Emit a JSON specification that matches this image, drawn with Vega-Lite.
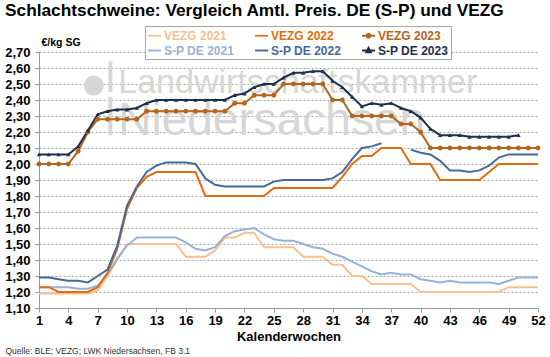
{
  "$schema": "https://vega.github.io/schema/vega-lite/v6.json",
  "autosize": {"type": "none"},
  "width": 499,
  "height": 256,
  "padding": {"left": 39, "top": 52, "right": 12, "bottom": 49},
  "background": "white",
  "title": {"text": "Schlachtschweine: Vergleich Amtl. Preis. DE (S-P) und VEZG", "anchor": "start", "frame": "group", "dx": -34, "offset": 6, "fontSize": 17.3, "fontWeight": "bold", "font": "Liberation Sans", "color": "#000000"},
  "config": {"view": {"stroke": null}, "font": "Liberation Sans"},
  "datasets": {
    "preise": [
      {"s":"VEZG 2021","w":1,"p":1.19},{"s":"VEZG 2021","w":2,"p":1.19},{"s":"VEZG 2021","w":3,"p":1.19},{"s":"VEZG 2021","w":4,"p":1.19},{"s":"VEZG 2021","w":5,"p":1.19},{"s":"VEZG 2021","w":6,"p":1.19},{"s":"VEZG 2021","w":7,"p":1.21},{"s":"VEZG 2021","w":8,"p":1.30},{"s":"VEZG 2021","w":9,"p":1.40},{"s":"VEZG 2021","w":10,"p":1.50},{"s":"VEZG 2021","w":11,"p":1.50},{"s":"VEZG 2021","w":12,"p":1.50},{"s":"VEZG 2021","w":13,"p":1.50},{"s":"VEZG 2021","w":14,"p":1.50},{"s":"VEZG 2021","w":15,"p":1.50},{"s":"VEZG 2021","w":16,"p":1.42},{"s":"VEZG 2021","w":17,"p":1.42},{"s":"VEZG 2021","w":18,"p":1.42},{"s":"VEZG 2021","w":19,"p":1.46},{"s":"VEZG 2021","w":20,"p":1.54},{"s":"VEZG 2021","w":21,"p":1.54},{"s":"VEZG 2021","w":22,"p":1.57},{"s":"VEZG 2021","w":23,"p":1.57},{"s":"VEZG 2021","w":24,"p":1.48},{"s":"VEZG 2021","w":25,"p":1.48},{"s":"VEZG 2021","w":26,"p":1.48},{"s":"VEZG 2021","w":27,"p":1.48},{"s":"VEZG 2021","w":28,"p":1.42},{"s":"VEZG 2021","w":29,"p":1.42},{"s":"VEZG 2021","w":30,"p":1.42},{"s":"VEZG 2021","w":31,"p":1.37},{"s":"VEZG 2021","w":32,"p":1.37},{"s":"VEZG 2021","w":33,"p":1.30},{"s":"VEZG 2021","w":34,"p":1.30},{"s":"VEZG 2021","w":35,"p":1.25},{"s":"VEZG 2021","w":36,"p":1.25},{"s":"VEZG 2021","w":37,"p":1.25},{"s":"VEZG 2021","w":38,"p":1.25},{"s":"VEZG 2021","w":39,"p":1.25},{"s":"VEZG 2021","w":40,"p":1.20},{"s":"VEZG 2021","w":41,"p":1.20},{"s":"VEZG 2021","w":42,"p":1.20},{"s":"VEZG 2021","w":43,"p":1.20},{"s":"VEZG 2021","w":44,"p":1.20},{"s":"VEZG 2021","w":45,"p":1.20},{"s":"VEZG 2021","w":46,"p":1.20},{"s":"VEZG 2021","w":47,"p":1.20},{"s":"VEZG 2021","w":48,"p":1.20},{"s":"VEZG 2021","w":49,"p":1.23},{"s":"VEZG 2021","w":50,"p":1.23},{"s":"VEZG 2021","w":51,"p":1.23},{"s":"VEZG 2021","w":52,"p":1.23},
      {"s":"S-P DE 2021","w":1,"p":1.23},{"s":"S-P DE 2021","w":2,"p":1.23},{"s":"S-P DE 2021","w":3,"p":1.23},{"s":"S-P DE 2021","w":4,"p":1.23},{"s":"S-P DE 2021","w":5,"p":1.22},{"s":"S-P DE 2021","w":6,"p":1.22},{"s":"S-P DE 2021","w":7,"p":1.24},{"s":"S-P DE 2021","w":8,"p":1.31},{"s":"S-P DE 2021","w":9,"p":1.41},{"s":"S-P DE 2021","w":10,"p":1.49},{"s":"S-P DE 2021","w":11,"p":1.54},{"s":"S-P DE 2021","w":12,"p":1.54},{"s":"S-P DE 2021","w":13,"p":1.54},{"s":"S-P DE 2021","w":14,"p":1.54},{"s":"S-P DE 2021","w":15,"p":1.54},{"s":"S-P DE 2021","w":16,"p":1.51},{"s":"S-P DE 2021","w":17,"p":1.47},{"s":"S-P DE 2021","w":18,"p":1.46},{"s":"S-P DE 2021","w":19,"p":1.48},{"s":"S-P DE 2021","w":20,"p":1.55},{"s":"S-P DE 2021","w":21,"p":1.58},{"s":"S-P DE 2021","w":22,"p":1.59},{"s":"S-P DE 2021","w":23,"p":1.60},{"s":"S-P DE 2021","w":24,"p":1.56},{"s":"S-P DE 2021","w":25,"p":1.53},{"s":"S-P DE 2021","w":26,"p":1.52},{"s":"S-P DE 2021","w":27,"p":1.52},{"s":"S-P DE 2021","w":28,"p":1.50},{"s":"S-P DE 2021","w":29,"p":1.48},{"s":"S-P DE 2021","w":30,"p":1.47},{"s":"S-P DE 2021","w":31,"p":1.44},{"s":"S-P DE 2021","w":32,"p":1.42},{"s":"S-P DE 2021","w":33,"p":1.39},{"s":"S-P DE 2021","w":34,"p":1.36},{"s":"S-P DE 2021","w":35,"p":1.33},{"s":"S-P DE 2021","w":36,"p":1.31},{"s":"S-P DE 2021","w":37,"p":1.32},{"s":"S-P DE 2021","w":38,"p":1.31},{"s":"S-P DE 2021","w":39,"p":1.31},{"s":"S-P DE 2021","w":40,"p":1.28},{"s":"S-P DE 2021","w":41,"p":1.27},{"s":"S-P DE 2021","w":42,"p":1.26},{"s":"S-P DE 2021","w":43,"p":1.27},{"s":"S-P DE 2021","w":44,"p":1.26},{"s":"S-P DE 2021","w":45,"p":1.26},{"s":"S-P DE 2021","w":46,"p":1.26},{"s":"S-P DE 2021","w":47,"p":1.26},{"s":"S-P DE 2021","w":48,"p":1.25},{"s":"S-P DE 2021","w":49,"p":1.27},{"s":"S-P DE 2021","w":50,"p":1.29},{"s":"S-P DE 2021","w":51,"p":1.29},{"s":"S-P DE 2021","w":52,"p":1.29},
      {"s":"VEZG 2022","w":1,"p":1.23},{"s":"VEZG 2022","w":2,"p":1.23},{"s":"VEZG 2022","w":3,"p":1.20},{"s":"VEZG 2022","w":4,"p":1.20},{"s":"VEZG 2022","w":5,"p":1.20},{"s":"VEZG 2022","w":6,"p":1.20},{"s":"VEZG 2022","w":7,"p":1.23},{"s":"VEZG 2022","w":8,"p":1.32},{"s":"VEZG 2022","w":9,"p":1.47},{"s":"VEZG 2022","w":10,"p":1.72},{"s":"VEZG 2022","w":11,"p":1.85},{"s":"VEZG 2022","w":12,"p":1.92},{"s":"VEZG 2022","w":13,"p":1.95},{"s":"VEZG 2022","w":14,"p":1.95},{"s":"VEZG 2022","w":15,"p":1.95},{"s":"VEZG 2022","w":16,"p":1.95},{"s":"VEZG 2022","w":17,"p":1.95},{"s":"VEZG 2022","w":18,"p":1.80},{"s":"VEZG 2022","w":19,"p":1.80},{"s":"VEZG 2022","w":20,"p":1.80},{"s":"VEZG 2022","w":21,"p":1.80},{"s":"VEZG 2022","w":22,"p":1.80},{"s":"VEZG 2022","w":23,"p":1.80},{"s":"VEZG 2022","w":24,"p":1.80},{"s":"VEZG 2022","w":25,"p":1.85},{"s":"VEZG 2022","w":26,"p":1.85},{"s":"VEZG 2022","w":27,"p":1.85},{"s":"VEZG 2022","w":28,"p":1.85},{"s":"VEZG 2022","w":29,"p":1.85},{"s":"VEZG 2022","w":30,"p":1.85},{"s":"VEZG 2022","w":31,"p":1.85},{"s":"VEZG 2022","w":32,"p":1.92},{"s":"VEZG 2022","w":33,"p":2.00},{"s":"VEZG 2022","w":34,"p":2.05},{"s":"VEZG 2022","w":35,"p":2.05},{"s":"VEZG 2022","w":36,"p":2.10},{"s":"VEZG 2022","w":37,"p":2.10},{"s":"VEZG 2022","w":38,"p":2.10},{"s":"VEZG 2022","w":39,"p":2.00},{"s":"VEZG 2022","w":40,"p":2.00},{"s":"VEZG 2022","w":41,"p":2.00},{"s":"VEZG 2022","w":42,"p":1.90},{"s":"VEZG 2022","w":43,"p":1.90},{"s":"VEZG 2022","w":44,"p":1.90},{"s":"VEZG 2022","w":45,"p":1.90},{"s":"VEZG 2022","w":46,"p":1.90},{"s":"VEZG 2022","w":47,"p":1.95},{"s":"VEZG 2022","w":48,"p":2.00},{"s":"VEZG 2022","w":49,"p":2.00},{"s":"VEZG 2022","w":50,"p":2.00},{"s":"VEZG 2022","w":51,"p":2.00},{"s":"VEZG 2022","w":52,"p":2.00},
      {"s":"S-P DE 2022","w":1,"p":1.29},{"s":"S-P DE 2022","w":2,"p":1.29},{"s":"S-P DE 2022","w":3,"p":1.28},{"s":"S-P DE 2022","w":4,"p":1.27},{"s":"S-P DE 2022","w":5,"p":1.27},{"s":"S-P DE 2022","w":6,"p":1.26},{"s":"S-P DE 2022","w":7,"p":1.30},{"s":"S-P DE 2022","w":8,"p":1.34},{"s":"S-P DE 2022","w":9,"p":1.49},{"s":"S-P DE 2022","w":10,"p":1.74},{"s":"S-P DE 2022","w":11,"p":1.86},{"s":"S-P DE 2022","w":12,"p":1.95},{"s":"S-P DE 2022","w":13,"p":1.99},{"s":"S-P DE 2022","w":14,"p":2.01},{"s":"S-P DE 2022","w":15,"p":2.01},{"s":"S-P DE 2022","w":16,"p":2.01},{"s":"S-P DE 2022","w":17,"p":2.00},{"s":"S-P DE 2022","w":18,"p":1.91},{"s":"S-P DE 2022","w":19,"p":1.87},{"s":"S-P DE 2022","w":20,"p":1.86},{"s":"S-P DE 2022","w":21,"p":1.86},{"s":"S-P DE 2022","w":22,"p":1.86},{"s":"S-P DE 2022","w":23,"p":1.86},{"s":"S-P DE 2022","w":24,"p":1.86},{"s":"S-P DE 2022","w":25,"p":1.89},{"s":"S-P DE 2022","w":26,"p":1.90},{"s":"S-P DE 2022","w":27,"p":1.90},{"s":"S-P DE 2022","w":28,"p":1.90},{"s":"S-P DE 2022","w":29,"p":1.90},{"s":"S-P DE 2022","w":30,"p":1.90},{"s":"S-P DE 2022","w":31,"p":1.91},{"s":"S-P DE 2022","w":32,"p":1.95},{"s":"S-P DE 2022","w":33,"p":2.03},{"s":"S-P DE 2022","w":34,"p":2.10},{"s":"S-P DE 2022","w":35,"p":2.11},{"s":"S-P DE 2022","w":36,"p":2.13},{"s":"S-P DE 2022","w":37,"p":null},{"s":"S-P DE 2022","w":38,"p":null},{"s":"S-P DE 2022","w":39,"p":2.09},{"s":"S-P DE 2022","w":40,"p":2.07},{"s":"S-P DE 2022","w":41,"p":2.06},{"s":"S-P DE 2022","w":42,"p":2.02},{"s":"S-P DE 2022","w":43,"p":1.96},{"s":"S-P DE 2022","w":44,"p":1.96},{"s":"S-P DE 2022","w":45,"p":1.95},{"s":"S-P DE 2022","w":46,"p":1.96},{"s":"S-P DE 2022","w":47,"p":1.99},{"s":"S-P DE 2022","w":48,"p":2.04},{"s":"S-P DE 2022","w":49,"p":2.06},{"s":"S-P DE 2022","w":50,"p":2.06},{"s":"S-P DE 2022","w":51,"p":2.06},{"s":"S-P DE 2022","w":52,"p":2.06},
      {"s":"VEZG 2023","w":1,"p":2.00},{"s":"VEZG 2023","w":2,"p":2.00},{"s":"VEZG 2023","w":3,"p":2.00},{"s":"VEZG 2023","w":4,"p":2.00},{"s":"VEZG 2023","w":5,"p":2.08},{"s":"VEZG 2023","w":6,"p":2.20},{"s":"VEZG 2023","w":7,"p":2.28},{"s":"VEZG 2023","w":8,"p":2.28},{"s":"VEZG 2023","w":9,"p":2.28},{"s":"VEZG 2023","w":10,"p":2.28},{"s":"VEZG 2023","w":11,"p":2.28},{"s":"VEZG 2023","w":12,"p":2.33},{"s":"VEZG 2023","w":13,"p":2.33},{"s":"VEZG 2023","w":14,"p":2.33},{"s":"VEZG 2023","w":15,"p":2.33},{"s":"VEZG 2023","w":16,"p":2.33},{"s":"VEZG 2023","w":17,"p":2.33},{"s":"VEZG 2023","w":18,"p":2.33},{"s":"VEZG 2023","w":19,"p":2.33},{"s":"VEZG 2023","w":20,"p":2.33},{"s":"VEZG 2023","w":21,"p":2.38},{"s":"VEZG 2023","w":22,"p":2.38},{"s":"VEZG 2023","w":23,"p":2.43},{"s":"VEZG 2023","w":24,"p":2.43},{"s":"VEZG 2023","w":25,"p":2.43},{"s":"VEZG 2023","w":26,"p":2.50},{"s":"VEZG 2023","w":27,"p":2.50},{"s":"VEZG 2023","w":28,"p":2.50},{"s":"VEZG 2023","w":29,"p":2.50},{"s":"VEZG 2023","w":30,"p":2.50},{"s":"VEZG 2023","w":31,"p":2.40},{"s":"VEZG 2023","w":32,"p":2.40},{"s":"VEZG 2023","w":33,"p":2.30},{"s":"VEZG 2023","w":34,"p":2.30},{"s":"VEZG 2023","w":35,"p":2.30},{"s":"VEZG 2023","w":36,"p":2.30},{"s":"VEZG 2023","w":37,"p":2.30},{"s":"VEZG 2023","w":38,"p":2.25},{"s":"VEZG 2023","w":39,"p":2.25},{"s":"VEZG 2023","w":40,"p":2.20},{"s":"VEZG 2023","w":41,"p":2.10},{"s":"VEZG 2023","w":42,"p":2.10},{"s":"VEZG 2023","w":43,"p":2.10},{"s":"VEZG 2023","w":44,"p":2.10},{"s":"VEZG 2023","w":45,"p":2.10},{"s":"VEZG 2023","w":46,"p":2.10},{"s":"VEZG 2023","w":47,"p":2.10},{"s":"VEZG 2023","w":48,"p":2.10},{"s":"VEZG 2023","w":49,"p":2.10},{"s":"VEZG 2023","w":50,"p":2.10},{"s":"VEZG 2023","w":51,"p":2.10},{"s":"VEZG 2023","w":52,"p":2.10},
      {"s":"S-P DE 2023","w":1,"p":2.06},{"s":"S-P DE 2023","w":2,"p":2.06},{"s":"S-P DE 2023","w":3,"p":2.06},{"s":"S-P DE 2023","w":4,"p":2.06},{"s":"S-P DE 2023","w":5,"p":2.11},{"s":"S-P DE 2023","w":6,"p":2.21},{"s":"S-P DE 2023","w":7,"p":2.31},{"s":"S-P DE 2023","w":8,"p":2.33},{"s":"S-P DE 2023","w":9,"p":2.34},{"s":"S-P DE 2023","w":10,"p":2.34},{"s":"S-P DE 2023","w":11,"p":2.35},{"s":"S-P DE 2023","w":12,"p":2.38},{"s":"S-P DE 2023","w":13,"p":2.40},{"s":"S-P DE 2023","w":14,"p":2.40},{"s":"S-P DE 2023","w":15,"p":2.40},{"s":"S-P DE 2023","w":16,"p":2.40},{"s":"S-P DE 2023","w":17,"p":2.40},{"s":"S-P DE 2023","w":18,"p":2.40},{"s":"S-P DE 2023","w":19,"p":2.40},{"s":"S-P DE 2023","w":20,"p":2.40},{"s":"S-P DE 2023","w":21,"p":2.43},{"s":"S-P DE 2023","w":22,"p":2.44},{"s":"S-P DE 2023","w":23,"p":2.48},{"s":"S-P DE 2023","w":24,"p":2.50},{"s":"S-P DE 2023","w":25,"p":2.50},{"s":"S-P DE 2023","w":26,"p":2.54},{"s":"S-P DE 2023","w":27,"p":2.57},{"s":"S-P DE 2023","w":28,"p":2.57},{"s":"S-P DE 2023","w":29,"p":2.58},{"s":"S-P DE 2023","w":30,"p":2.58},{"s":"S-P DE 2023","w":31,"p":2.52},{"s":"S-P DE 2023","w":32,"p":2.48},{"s":"S-P DE 2023","w":33,"p":2.42},{"s":"S-P DE 2023","w":34,"p":2.36},{"s":"S-P DE 2023","w":35,"p":2.38},{"s":"S-P DE 2023","w":36,"p":2.37},{"s":"S-P DE 2023","w":37,"p":2.38},{"s":"S-P DE 2023","w":38,"p":2.35},{"s":"S-P DE 2023","w":39,"p":2.33},{"s":"S-P DE 2023","w":40,"p":2.29},{"s":"S-P DE 2023","w":41,"p":2.22},{"s":"S-P DE 2023","w":42,"p":2.18},{"s":"S-P DE 2023","w":43,"p":2.18},{"s":"S-P DE 2023","w":44,"p":2.18},{"s":"S-P DE 2023","w":45,"p":2.17},{"s":"S-P DE 2023","w":46,"p":2.17},{"s":"S-P DE 2023","w":47,"p":2.17},{"s":"S-P DE 2023","w":48,"p":2.17},{"s":"S-P DE 2023","w":49,"p":2.17},{"s":"S-P DE 2023","w":50,"p":2.18}
    ]
  },
  "resolve": {"scale": {"x": "independent", "y": "independent"}, "axis": {"x": "independent", "y": "independent"}},
  "layer": [
    {
      "data": {"values": [{}]},
      "mark": {"type": "point", "filled": true, "color": "#d6d6d6", "opacity": 1, "size": 400},
      "encoding": {
        "x": {"datum": 6.6, "type": "quantitative", "scale": {"domain": [1, 52], "nice": false, "zero": false}, "axis": null},
        "y": {"datum": 2.49, "type": "quantitative", "scale": {"domain": [1.1, 2.7], "nice": false, "zero": false},
          "axis": {"orient": "right", "labels": false, "ticks": false, "domain": false, "grid": false,
            "title": "Quelle: BLE; VEZG; LWK Niedersachsen, FB 3.1", "titleAngle": 0, "titleX": -533, "titleY": 298,
            "titleAlign": "left", "titleBaseline": "middle", "titleFontSize": 8.5, "titleFontWeight": "normal", "titleColor": "#333333", "titleFont": "Liberation Sans"}}
      }
    },
    {
      "data": {"values": [{}]},
      "layer": [
        {
          "mark": {"type": "rule", "color": "#d6d6d6", "strokeWidth": 4},
          "encoding": {
            "x": {"datum": 8.3, "type": "quantitative", "scale": {"domain": [1, 52], "nice": false, "zero": false}, "axis": null},
            "y": {"datum": 2.64, "type": "quantitative", "scale": {"domain": [1.1, 2.7], "nice": false, "zero": false}, "axis": null},
            "y2": {"datum": 2.45}
          }
        },
        {
          "mark": {"type": "rule", "color": "#d6d6d6", "strokeWidth": 4},
          "encoding": {
            "x": {"datum": 8.3, "type": "quantitative", "scale": {"domain": [1, 52], "nice": false, "zero": false}, "axis": null},
            "y": {"datum": 2.42, "type": "quantitative", "scale": {"domain": [1.1, 2.7], "nice": false, "zero": false}, "axis": null},
            "y2": {"datum": 2.18}
          }
        },
        {
          "mark": {"type": "text", "text": "Landwirtschaftskammer", "align": "left", "baseline": "alphabetic", "font": "Liberation Sans", "fontSize": 34, "color": "#d6d6d6"},
          "encoding": {
            "x": {"datum": 9.1, "type": "quantitative", "scale": {"domain": [1, 52], "nice": false, "zero": false}, "axis": null},
            "y": {"datum": 2.445, "type": "quantitative", "scale": {"domain": [1.1, 2.7], "nice": false, "zero": false}, "axis": null}
          }
        },
        {
          "mark": {"type": "text", "text": "Niedersachsen", "align": "left", "baseline": "alphabetic", "font": "Liberation Sans", "fontSize": 46, "color": "#d6d6d6"},
          "encoding": {
            "x": {"datum": 9.1, "type": "quantitative", "scale": {"domain": [1, 52], "nice": false, "zero": false}, "axis": null},
            "y": {"datum": 2.18, "type": "quantitative", "scale": {"domain": [1.1, 2.7], "nice": false, "zero": false}, "axis": null}
          }
        }
      ]
    },
    {
      "data": {"name": "preise"},
      "encoding": {
        "x": {"field": "w", "type": "quantitative", "scale": {"domain": [1, 52], "nice": false, "zero": false},
          "axis": {"orient": "bottom", "values": [1,4,7,10,13,16,19,22,25,28,31,34,37,40,43,46,49,52], "grid": false, "title": "Kalenderwochen",
            "labelFontSize": 13, "labelFontWeight": "bold", "labelColor": "#000000", "labelPadding": 2, "labelFlush": false,
            "tickSize": 4, "tickColor": "#999999", "domainColor": "#999999",
            "titleFontSize": 13, "titleFontWeight": "bold", "titleColor": "#000000", "titlePadding": 3}},
        "y": {"field": "p", "type": "quantitative", "scale": {"domain": [1.1, 2.7], "nice": false, "zero": false},
          "axis": {"orient": "left", "values": [1.1,1.2,1.3,1.4,1.5,1.6,1.7,1.8,1.9,2.0,2.1,2.2,2.3,2.4,2.5,2.6,2.7],
            "labelExpr": "replace(format(datum.value, '.2f'), '.', ',')",
            "grid": true, "gridDash": [2, 2], "gridColor": "#a6a6a6", "gridWidth": 1,
            "labelFontSize": 13, "labelFontWeight": "bold", "labelColor": "#000000", "labelPadding": 5,
            "tickSize": 4, "tickColor": "#999999", "domainColor": "#999999",
            "title": "€/kg SG", "titleAngle": 0, "titleX": 2, "titleY": -10, "titleAlign": "left", "titleBaseline": "middle",
            "titleFontSize": 10.5, "titleFontWeight": "bold", "titleColor": "#000000"}},
        "color": {"field": "s", "type": "nominal",
          "scale": {"domain": ["VEZG 2021", "VEZG 2022", "VEZG 2023", "S-P DE 2021", "S-P DE 2022", "S-P DE 2023"],
            "range": ["#f9bf8f", "#e46c0a", "#b5651d", "#95b3d7", "#46689a", "#1f2d4a"]},
          "legend": {"orient": "none", "legendX": 106, "legendY": -26, "direction": "horizontal", "columns": 3, "title": null,
            "padding": 2, "rowPadding": 1, "columnPadding": 16, "strokeColor": "#a6a6a6", "fillColor": "#ffffff",
            "symbolType": "stroke", "symbolSize": 169, "symbolStrokeWidth": 2, "labelOffset": 2,
            "labelFontSize": 12, "labelFontWeight": "bold", "labelFont": "Liberation Sans",
            "encode": {
              "labels": {"update": {"fill": {"scale": "color", "field": "value"}}},
              "symbols": {"update": {
                "shape": {"signal": "datum.value == 'VEZG 2023' ? 'M-1,0H1M-0.3,0A0.3,0.3,0,1,1,0.3,0A0.3,0.3,0,1,1,-0.3,0Z' : datum.value == 'S-P DE 2023' ? 'M-1,0H1M0,-0.4L0.35,0.25L-0.35,0.25Z' : 'stroke'"},
                "fill": {"scale": "color", "field": "value"},
                "fillOpacity": {"value": 1}}}
            }}}
      },
      "layer": [
        {
          "mark": {"type": "line", "strokeWidth": 2},
          "encoding": {
            "strokeWidth": {"field": "s", "type": "nominal", "legend": null,
              "scale": {"domain": ["VEZG 2021", "VEZG 2022", "VEZG 2023", "S-P DE 2021", "S-P DE 2022", "S-P DE 2023"], "range": [1.6, 2, 2, 1.6, 2, 2]}}
          }
        },
        {
          "transform": [{"filter": {"field": "s", "oneOf": ["VEZG 2023", "S-P DE 2023"]}}],
          "mark": {"type": "point", "filled": true, "opacity": 1},
          "encoding": {
            "shape": {"field": "s", "type": "nominal", "legend": null,
              "scale": {"domain": ["VEZG 2023", "S-P DE 2023"], "range": ["circle", "triangle-up"]}},
            "size": {"field": "s", "type": "nominal", "legend": null,
              "scale": {"domain": ["VEZG 2023", "S-P DE 2023"], "range": [24, 18]}}
          }
        }
      ]
    }
  ]
}
